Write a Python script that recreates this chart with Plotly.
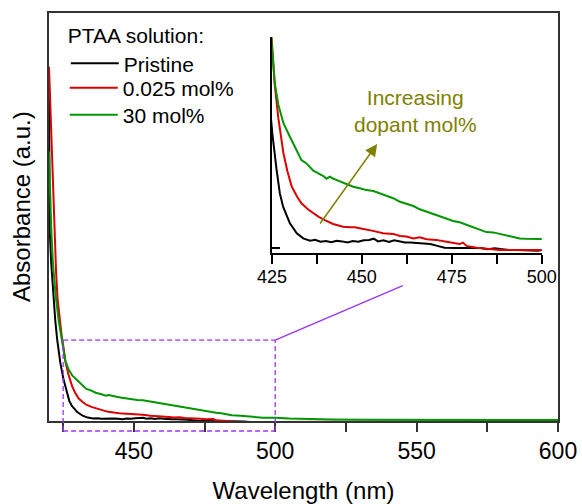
import plotly.graph_objects as go

# ---------------- data ----------------
black_nm = [420, 420.24, 420.8, 421.5, 422.2, 422.9, 424.0, 425.1, 426.3, 427.2,
            428.1, 430.0, 431.9, 433.7, 435.6, 437, 438.5, 440, 441.5, 443,
            444.5, 446, 447.5, 449, 450.5, 452, 453.3, 454.5, 456, 457.5,
            459, 460.5, 462, 463.5, 465, 467, 469, 471, 473, 476,
            479, 481, 483, 485, 487, 489, 491, 493, 495, 497,
            499, 500, 510, 520, 530, 540, 550, 560, 570, 580,
            590, 600]
black_abs = [3.0, 1.74, 1.43, 1.13, 0.92, 0.74, 0.53, 0.381, 0.259, 0.181,
             0.137, 0.081, 0.048, 0.031, 0.023, 0.026, 0.020, 0.022, 0.018, 0.023,
             0.021, 0.017, 0.022, 0.020, 0.025, 0.026, 0.030, 0.021, 0.025, 0.019,
             0.025, 0.021, 0.017, 0.017, 0.016, 0.015, 0.012, 0.006, 0.000, -0.001,
             -0.001, -0.003, -0.001, -0.005, -0.002, -0.005, -0.008, -0.008, -0.009, -0.011,
             -0.010, -0.008, -0.007, -0.007, -0.006, -0.006, -0.006, -0.006, -0.006, -0.006,
             -0.006, -0.006]

red_nm = [420, 420.5, 421, 421.5, 422, 422.5, 423, 423.5, 424, 424.5,
          425, 425.8, 426.8, 428.2, 429.3, 430.5, 432, 433.2, 435, 436.5,
          438, 439.7, 441, 442, 443.5, 444.8, 446.7, 448.1, 449.4, 451.3,
          453.1, 455.9, 458.7, 460.6, 462.4, 464.3, 466.1, 468, 470.7, 473.5,
          475.4, 477.2, 478.1, 479.1, 481.9, 484.6, 488.3, 492, 496, 500,
          510, 520, 530, 540, 550, 560, 570, 580, 590, 600]
red_abs = [3.22, 2.85, 2.46, 2.02, 1.64, 1.36, 1.12, 0.98, 0.86, 0.77,
           0.69, 0.54, 0.43, 0.315, 0.255, 0.204, 0.170, 0.148, 0.128, 0.115,
           0.103, 0.092, 0.085, 0.079, 0.074, 0.070, 0.068, 0.068, 0.065, 0.061,
           0.056, 0.048, 0.046, 0.039, 0.037, 0.031, 0.035, 0.028, 0.026, 0.020,
           0.015, 0.012, 0.017, 0.006, 0.000, -0.004, -0.008, -0.008, -0.008, -0.008,
           -0.007, -0.007, -0.006, -0.006, -0.006, -0.006, -0.006, -0.006, -0.006, -0.006]

green_nm = [420, 420.35, 420.8, 421.4, 422.4, 423.5, 424.7, 425.1, 425.8, 426.8,
            428.2, 430.0, 431.9, 433.2, 434.6, 436.5, 437.9, 439.3, 440.2, 441.1,
            442.0, 443.9, 445.7, 447.6, 449.4, 451.3, 453.2, 455.0, 456.9, 458.7,
            460.6, 462.4, 464.3, 466.1, 468.0, 469.8, 471.7, 473.5, 475.4, 477.2,
            479.1, 480.9, 482.8, 484.6, 486.5, 488.3, 490.2, 492.0, 493.9, 495.7,
            497.6, 500, 505, 510, 520, 530, 540, 550, 560, 570,
            580, 590, 600]
green_abs = [2.45, 2.13, 1.74, 1.43, 1.13, 0.90, 0.70, 0.631, 0.548, 0.476,
             0.415, 0.370, 0.326, 0.292, 0.281, 0.257, 0.248, 0.239, 0.230, 0.237,
             0.230, 0.220, 0.212, 0.203, 0.198, 0.192, 0.189, 0.181, 0.172, 0.165,
             0.153, 0.146, 0.139, 0.128, 0.120, 0.111, 0.103, 0.096, 0.089, 0.085,
             0.076, 0.070, 0.059, 0.052, 0.051, 0.046, 0.042, 0.037, 0.031, 0.030,
             0.029, 0.029, 0.022, 0.018, 0.014, 0.012, 0.011, 0.010, 0.009, 0.009,
             0.008, 0.008, 0.008]

series_names = ["Pristine", "0.025 mol%", "30 mol%"]
series_colors = ["#000000", "#dd0000", "#009600"]
legend_title = "PTAA solution:"

main_x_range = [420, 600]
main_y_range = [0, 3.71]
inset_x_range = [425, 500]
inset_y_range = [-0.0177, 0.7023]
zoom_box_top = 0.736          # main-axis absorbance of the dashed zoom box top

FONT = "Arial, Liberation Sans, sans-serif"
OLIVE = "#808000"
VIOLET = "#9933ff"

fig = go.Figure()
data = [(black_nm, black_abs), (red_nm, red_abs), (green_nm, green_abs)]
legend_ids = ["legend", "legend2", "legend3"]
for (nm, ab), name, col, lg in zip(data, series_names, series_colors, legend_ids):
    fig.add_trace(go.Scatter(x=nm, y=ab, mode="lines", name=name, legend=lg,
                             line=dict(color=col, width=2), xaxis="x", yaxis="y"))
for (nm, ab), name, col in zip(data, series_names, series_colors):
    fig.add_trace(go.Scatter(x=nm, y=ab, mode="lines", name=name, showlegend=False,
                             line=dict(color=col, width=2), xaxis="x2", yaxis="y2"))

def ydom(v):
    return (v - main_y_range[0]) / (main_y_range[1] - main_y_range[0])

# dashed zoom box (extends a little below the axis line)
box_bottom = -0.0245
dash = dict(color=VIOLET, width=1.3, dash="5px,3px")
fig.add_shape(type="line", xref="x", yref="y domain", x0=inset_x_range[0], x1=inset_x_range[1],
              y0=ydom(zoom_box_top), y1=ydom(zoom_box_top), line=dash)
fig.add_shape(type="line", xref="x", yref="y domain", x0=inset_x_range[0], x1=inset_x_range[1],
              y0=box_bottom, y1=box_bottom, line=dash)
for xv in inset_x_range:
    fig.add_shape(type="line", xref="x", yref="y domain", x0=xv, x1=xv,
                  y0=box_bottom, y1=ydom(zoom_box_top), line=dash)
# connector line toward the inset
x_conn0 = (inset_x_range[1] - main_x_range[0]) / (main_x_range[1] - main_x_range[0])
fig.add_shape(type="line", xref="paper", yref="paper", x0=x_conn0, y0=ydom(zoom_box_top),
              x1=0.695, y1=0.3316, line=dict(color=VIOLET, width=1.3))

# annotation text + arrow inside the inset
fig.add_annotation(x=464.9, y=0.456, xref="x2", yref="y2", text="Increasing<br>dopant mol%",
                   showarrow=False, font=dict(family=FONT, size=21, color=OLIVE))
fig.add_annotation(x=454.25, y=0.3457, xref="x2", yref="y2", ax=438.1, ay=0.0757,
                   axref="x2", ayref="y2", text="", showarrow=True, arrowhead=2,
                   arrowsize=1.6, arrowwidth=1.5, arrowcolor=OLIVE, standoff=0)

# y axis title
fig.add_annotation(x=-0.055, y=0.5245, xref="paper", yref="paper", text="Absorbance (a.u.)",
                   xanchor="center", yanchor="middle",
                   textangle=-90, showarrow=False, font=dict(family=FONT, size=24, color="black"))

leg_common = dict(xanchor="left", yanchor="top", bgcolor="rgba(0,0,0,0)", borderwidth=0,
                  itemwidth=48, font=dict(family=FONT, size=21, color="black"))

fig.update_layout(
    template="none",
    width=582, height=504,
    margin=dict(l=49, r=24, t=13, b=83, autoexpand=False),
    paper_bgcolor="white", plot_bgcolor="white",
    font=dict(family=FONT, size=21, color="black"),
    showlegend=True,
    legend=dict(title=dict(text=legend_title, font=dict(family=FONT, size=21)),
                x=0.033, y=0.993, **leg_common),
    legend2=dict(x=0.031, y=0.866, **leg_common),
    legend3=dict(x=0.031, y=0.800, **leg_common),
    xaxis=dict(range=main_x_range, domain=[0, 1], anchor="y", automargin=False,
               showline=True, mirror=True, linecolor="#333333", linewidth=1.5,
               ticks="outside", ticklen=9, tickwidth=1.5, tickcolor="#333333",
               tick0=0, dtick=50, ticklabelstandoff=0,
               minor=dict(dtick=25, ticks="outside", ticklen=9, tickwidth=1.5, tickcolor="#333333"),
               tickfont=dict(family=FONT, size=23, color="black"),
               title=dict(text="Wavelength (nm)", font=dict(family=FONT, size=24, color="black"), standoff=19),
               showgrid=False, zeroline=False),
    yaxis=dict(range=main_y_range, domain=[0, 1], anchor="x", automargin=False,
               showline=True, mirror=True, linecolor="#333333", linewidth=1.5,
               ticks="", showticklabels=False, showgrid=False, zeroline=False),
    xaxis2=dict(range=inset_x_range, domain=[0.438, 0.968], anchor="y2", automargin=False,
                showline=True, mirror=False, linecolor="black", linewidth=1.5,
                ticks="outside", ticklen=9, tickwidth=1.5, tickcolor="black",
                tick0=0, dtick=25, ticklabelstandoff=-2,
                minor=dict(dtick=12.5, ticks="outside", ticklen=9, tickwidth=1.5, tickcolor="black"),
                tickfont=dict(family=FONT, size=18, color="black"),
                showgrid=False, zeroline=False),
    yaxis2=dict(range=inset_y_range, domain=[0.4118, 0.941], anchor="x2", automargin=False,
                showline=True, mirror=False, linecolor="black", linewidth=1.5,
                ticks="inside", ticklen=8, tickwidth=1.5, tickcolor="black",
                tickvals=[0], showticklabels=False, showgrid=False, zeroline=False),
)

fig.write_html("out.html", config={"displayModeBar": False},
               post_script="document.body.style.margin='0';")
